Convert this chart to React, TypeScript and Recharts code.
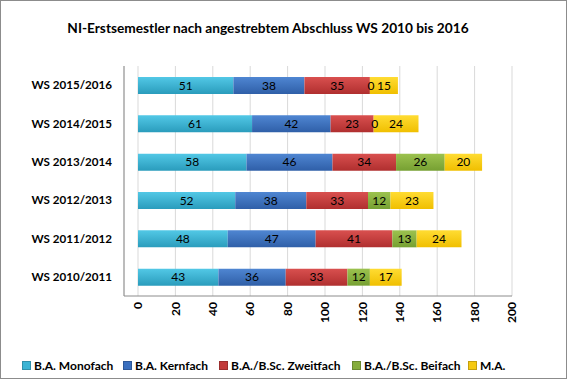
import React from 'react';
import { BarChart, Bar, XAxis, YAxis, CartesianGrid, Legend, LabelList } from 'recharts';

const categories = ['WS 2015/2016', 'WS 2014/2015', 'WS 2013/2014', 'WS 2012/2013', 'WS 2011/2012', 'WS 2010/2011'];
const monofach = [51, 61, 58, 52, 48, 43];
const kernfach = [38, 42, 46, 38, 47, 36];
const zweitfach = [35, 23, 34, 33, 41, 33];
const beifach = [0, 0, 26, 12, 13, 12];
const master = [15, 24, 20, 23, 24, 17];
const xTicks = [0, 20, 40, 60, 80, 100, 120, 140, 160, 180, 200];

const series = [
  { key: 'mono', name: 'B.A. Monofach', top: '#52c8e6', bottom: '#2a9cbc', legend: '#3cb4d4' },
  { key: 'kern', name: 'B.A. Kernfach', top: '#4f86d2', bottom: '#2f5fa8', legend: '#3a6fbf' },
  { key: 'zweit', name: 'B.A./B.Sc. Zweitfach', top: '#d9504f', bottom: '#b02f2f', legend: '#c23a3a' },
  { key: 'bei', name: 'B.A./B.Sc. Beifach', top: '#9cc24f', bottom: '#76a032', legend: '#86ad3c' },
  { key: 'ma', name: 'M.A.', top: '#ffdc33', bottom: '#f0bf00', legend: '#f5c912' },
];

const data = categories.map((name, i) => ({
  name,
  mono: monofach[i],
  kern: kernfach[i],
  zweit: zweitfach[i],
  bei: beifach[i],
  ma: master[i],
}));

const FONT = 'Lato, "Open Sans", sans-serif';

const XTick = (props: any) => {
  const { x, payload } = props;
  return (
    <text
      x={x}
      y={302}
      transform={`rotate(-90, ${x}, 302)`}
      textAnchor="end"
      dy="0.35em"
      fontFamily={FONT}
      fontWeight={700}
      fontSize={12}
      fill="#000"
    >
      {payload.value}
    </text>
  );
};

const SegLabel = (props: any) => {
  const { x, y, width, height, value } = props;
  if (value === undefined || value === null) return null;
  return (
    <text
      x={Number(x) + Number(width) / 2}
      y={Number(y) + Number(height) / 2}
      dy="0.35em"
      textAnchor="middle"
      fontFamily={FONT}
      fontSize={12}
      fill="#000"
    >
      {value}
    </text>
  );
};

// Beifach labels for zero-width segments, drawn at the start of the following (M.A.) segment
const ZeroLabel = (props: any) => {
  const { x, y, height, value } = props;
  if (value !== 0) return null;
  return (
    <text
      x={Number(x) + 1}
      y={Number(y) + Number(height) / 2}
      dy="0.35em"
      textAnchor="middle"
      fontFamily={FONT}
      fontSize={12}
      fill="#000"
    >
      {value}
    </text>
  );
};

const LegendContent = () => (
  <div style={{ position: 'relative', height: 18, fontFamily: FONT, fontWeight: 700, fontSize: 12, color: '#000' }}>
    {series.map((s, i) => {
      const lefts = [22, 123, 219, 352, 468];
      return (
        <div key={s.key} style={{ position: 'absolute', left: lefts[i], top: 0, height: 18, display: 'flex', alignItems: 'center', whiteSpace: 'nowrap' }}>
          <span style={{ display: 'inline-block', width: 7, height: 7, background: s.legend, marginRight: 3, border: '0.5px solid rgba(0,0,0,0.2)' }} />
          <span>{s.name}</span>
        </div>
      );
    })}
  </div>
);

export default function App() {
  return (
    <div style={{ position: 'absolute', left: 0, top: 0, width: 567, height: 379, background: '#fff' }}>
      <div
        style={{
          position: 'absolute',
          left: 0,
          top: 19,
          width: 536,
          textAlign: 'center',
          fontFamily: FONT,
          fontWeight: 700,
          fontSize: 13.7,
          color: '#000',
        }}
      >
        NI-Erstsemestler nach angestrebtem Abschluss WS 2010 bis 2016
      </div>
      <BarChart
        width={567}
        height={379}
        data={data}
        layout="vertical"
        margin={{ top: 66, right: 55, bottom: 5, left: 0 }}
        barSize={17}
      >
        <defs>
          {series.map((s) => (
            <linearGradient key={s.key} id={`g-${s.key}`} x1="0" y1="0" x2="0" y2="1">
              <stop offset="0%" stopColor={s.top} />
              <stop offset="100%" stopColor={s.bottom} />
            </linearGradient>
          ))}
        </defs>
        <CartesianGrid horizontal={false} vertical={true} stroke="#d9d9d9" />
        <XAxis
          type="number"
          domain={[0, 200]}
          ticks={xTicks}
          interval={0}
          padding={{ left: 14, right: 0 }}
          height={60}
          tick={<XTick />}
          tickLine={false}
          axisLine={{ stroke: '#8c8c8c' }}
        />
        <YAxis
          type="category"
          dataKey="name"
          width={124}
          tickLine={false}
          tickSize={0}
          tickMargin={12}
          axisLine={{ stroke: '#8c8c8c' }}
          tick={{ fontFamily: FONT, fontWeight: 700, fontSize: 11.6, fill: '#000' }}
        />
        <Legend verticalAlign="bottom" height={18} content={<LegendContent />} />
        {series.map((s) => (
          <Bar key={s.key} dataKey={s.key} name={s.name} stackId="a" fill={`url(#g-${s.key})`} isAnimationActive={false}>
            <LabelList dataKey={s.key} content={<SegLabel />} />
            {s.key === 'ma' ? <LabelList dataKey="bei" content={<ZeroLabel />} /> : null}
          </Bar>
        ))}
      </BarChart>
      <div style={{ position: 'absolute', left: 0, top: 0, width: 567, height: 379, boxSizing: 'border-box', border: '1px solid #8c8c8c', pointerEvents: 'none' }} />
    </div>
  );
}
